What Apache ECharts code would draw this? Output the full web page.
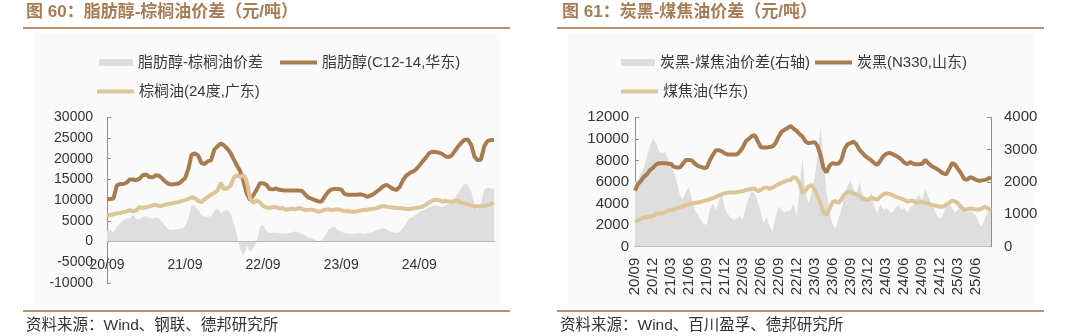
<!DOCTYPE html>
<html><head><meta charset="utf-8">
<script src="https://cdn.jsdelivr.net/npm/echarts@6/dist/echarts.min.js"></script>
<style>html,body{margin:0;padding:0;background:#fff}#c{width:1080px;height:336px}</style>
</head><body><div id="c"></div>
<script>
// ---------- semi-monthly category dates 2020-09 .. 2025-08 ----------
const dates = [];
for (let y = 2020; y <= 2025; y++) {
  for (let m = 1; m <= 12; m++) {
    if (y === 2020 && m < 9) continue;
    if (y === 2025 && m > 8) continue;
    const mm = (m < 10 ? '0' : '') + m;
    dates.push(y + '-' + mm + '-01', y + '-' + mm + '-16');
  }
}
// ---------- Chart 60 ----------
const leftNames = ['脂肪醇-棕榈油价差', '脂肪醇(C12-14,华东)', '棕榈油(24度,广东)'];
const fattyAlcohol = [10300,10300,10400,13500,13900,13900,14200,15000,15000,14800,15200,16000,16200,15600,15500,16000,15900,15200,14400,13900,
  13800,13900,14000,14600,15300,17500,21000,21300,20800,19000,18700,19400,19600,22200,23000,23700,23200,22400,21400,19800,
  18300,16900,14500,11500,10000,11200,12500,14100,14100,13700,12700,12600,12800,12500,12400,12300,12300,12300,12300,12300,
  12200,11300,10600,10300,10000,9700,9700,10900,12000,12600,12700,12700,12600,11500,11300,11300,11300,11300,11400,11200,
  10800,11100,11500,12100,12700,13400,13700,13200,12700,12400,13200,14800,15900,16500,16900,17400,18300,19300,20200,21300,
  21700,21600,21500,21200,20600,20400,20800,21900,23000,23900,24600,24600,23300,20500,19600,19800,23000,24300,24500,24500];
const palmOil = [6200,6400,6600,6800,6900,7100,7300,7600,7300,7500,8300,8100,8300,8500,8700,8900,8500,8700,8900,9100,
  9200,9400,9500,9800,10000,10300,10700,10500,9800,9500,10200,10800,11300,11800,12300,14200,12700,12800,13500,15500,
  16000,15600,16100,14500,10500,9300,10000,9400,8600,8200,8100,8400,8300,8000,8100,7700,7800,7900,7800,8100,
  7900,7600,7700,7700,7500,7200,7400,7700,7800,7600,7700,7800,7600,7300,7400,7250,7200,7300,7500,7600,
  7700,7800,7900,8100,8400,8600,8400,8300,8200,8100,8100,8000,7900,7800,8000,8100,8200,8400,8900,9400,
  9800,10100,10000,9700,9800,9700,9500,9900,9800,9400,9200,8900,8700,8500,8500,8500,8600,8800,9000,9400];
const spreadLeft = [2600,2800,2200,3500,4400,5200,5600,5600,6400,5500,5300,6000,6100,5700,5600,5800,5600,4800,3600,3000,
  2800,2900,3000,3200,3600,5600,8800,8600,7600,6500,6000,6000,6100,7400,8100,6800,7400,7600,6800,4400,
  1500,-2000,-3500,-1000,-2500,-1500,0,3500,4000,2600,2000,2200,2000,2100,1900,2000,2100,2200,2500,2200,
  1800,1600,1000,800,500,0,300,1300,2800,3400,3600,2800,2400,2100,2000,1900,1900,2000,2000,1800,
  2100,2200,2400,2800,3000,3200,3000,2400,2200,2100,2400,3200,4400,5600,6000,6500,7000,7500,7800,8200,
  8500,8800,8600,8300,8700,9000,9500,10500,11800,13000,14000,13800,12000,9000,7600,9500,12500,13000,12800,12800];
// ---------- Chart 61 ----------
const rightNames = ['炭黑-煤焦油价差(右轴)', '炭黑(N330,山东)', '煤焦油(华东)'];
const carbonBlack = [5200,5800,6100,6500,6700,7100,7300,7600,7750,7750,7750,7700,7700,7400,7350,7350,7700,8050,8050,8000,
  7700,7500,7400,7300,7350,8000,8500,8950,8950,8850,8650,8550,8550,8550,8550,8800,9200,9750,10000,10250,
  10350,9800,9250,9200,9200,9250,9300,9600,10200,10650,10850,11000,11200,10950,10750,10450,10200,9750,9600,9650,
  9700,9350,8500,7300,6900,7500,7750,7700,7700,8050,9000,9500,9600,9750,9500,9000,8700,8400,8200,8000,
  7750,7600,7950,8400,8600,8700,8600,8450,8300,8100,7800,7650,7850,7700,7650,7650,7700,8050,7750,7500,
  7350,7200,7000,6800,6700,7200,7750,7600,7200,6800,6300,6200,6450,6350,6200,6100,6150,6200,6300,6450];
const coalTar = [2300,2450,2600,2700,2750,2800,2800,3050,3100,3050,3200,3350,3400,3450,3550,3650,3750,3850,3950,4000,
  4050,4100,4150,4250,4300,4400,4500,4600,4750,4850,4950,5000,5030,5030,5050,5100,5150,5250,5300,5350,
  5400,5150,5250,5450,5500,5350,5500,5650,5800,5900,6050,6150,6180,6450,6350,5900,5000,5200,5600,5700,
  5300,4700,4000,3200,2950,3500,4150,4250,4050,4400,4850,5100,5050,4950,4850,4700,4450,4400,4330,4550,
  4450,4330,4650,4850,4950,4900,4800,4650,4550,4450,4350,4200,4250,4250,4100,4100,4150,4050,4000,3900,
  3850,3750,3700,3700,3900,4050,4300,4200,4000,3700,3400,3450,3550,3500,3450,3450,3550,3700,3550,3350];
const spreadRight = [2000,2050,2270,2450,2800,3100,3350,3200,2950,2880,2940,2730,2530,2300,2000,1600,1450,1700,1850,1500,
  1130,1030,820,700,680,1130,1340,1130,1400,1650,1200,1000,900,820,870,950,850,1240,1500,1700,
  1650,1400,1100,720,930,620,460,930,1240,1150,1050,1100,1130,1340,930,1750,2780,1650,1340,1650,
  2100,2800,3710,2800,1700,1100,700,550,850,1150,1550,1850,2060,1800,1600,2000,1650,1500,1400,1700,
  1240,1030,1340,1150,1200,1100,1050,1200,1300,1150,1200,1050,1200,1300,1500,1600,1450,1800,1550,1350,
  1150,950,850,1000,1250,1300,1200,1050,1150,1250,1150,1050,1100,1050,950,720,620,900,1100,1050];

const BROWN = '#A97C50', TAN = '#DCC699', GRAY = '#DEDEDE', RULE = '#B8916B', TITLE = '#A67D57';
const FONT = '"Liberation Sans", "Noto Sans CJK SC", sans-serif';
const fmt = v => v.slice(2, 4) + '/' + v.slice(5, 7);
const plain = v => '' + v;
const isSep = (i, v) => v.slice(5) === '09-01';
const isQtr = (i, v) => /-(03|06|09|12)-01$/.test(v);
const axisCol = '#8f8f8f', txt = '#333';

function leg(name, left, top, w, h) {
  return { data: [name], left: left, top: top, icon: 'rect', itemWidth: w, itemHeight: h,
    textStyle: { fontFamily: FONT, fontSize: 15, color: '#3a3a3a' }, selectedMode: false, padding: 0 };
}
function tx(x, y, text, size, color, weight) {
  return { type: 'text', x: x, y: y, style: { text: text, fill: color, font: (weight || 'normal') + ' ' + size + 'px ' + FONT, textVerticalAlign: 'middle', textAlign: 'left' } };
}
function ln(x1, x2, y) {
  return { type: 'line', shape: { x1: x1, y1: y, x2: x2, y2: y }, style: { stroke: RULE, lineWidth: 2 } };
}

const chart = echarts.init(document.getElementById('c'), null, { renderer: 'canvas' });
chart.setOption({
  animation: false,
  backgroundColor: '#fff',
  graphic: [
    { type: 'rect', z: -10, shape: { x: 35, y: 33, width: 465, height: 272 }, style: { fill: '#fafafa' } },
    { type: 'rect', z: -10, shape: { x: 568, y: 33, width: 465, height: 272 }, style: { fill: '#fafafa' } },
    tx(26, 12, '图 60：脂肪醇-棕榈油价差（元/吨）', 17, TITLE, 'bold'),
    tx(562, 12, '图 61：炭黑-煤焦油价差（元/吨）', 17, TITLE, 'bold'),
    ln(23, 510, 28), ln(557, 1044, 28),
    ln(23, 510, 311), ln(557, 1044, 311),
    tx(26, 326, '资料来源：Wind、钢联、德邦研究所', 15.5, '#333'),
    tx(560, 326, '资料来源：Wind、百川盈孚、德邦研究所', 15.5, '#333')
  ],
  legend: [
    leg(leftNames[0], 99, 55, 34, 7),
    leg(leftNames[1], 280, 55, 37, 4),
    leg(leftNames[2], 97, 84, 37, 4),
    leg(rightNames[0], 621, 55, 34, 7),
    leg(rightNames[1], 815, 55, 37, 4),
    leg(rightNames[2], 621, 84, 37, 4)
  ],
  grid: [
    { left: 107, width: 387, top: 117.3, height: 165.7 },
    { left: 635, width: 356, top: 117.3, height: 129.4 }
  ],
  xAxis: [
    { type: 'category', gridIndex: 0, data: dates, boundaryGap: false, position: 'bottom', offset: -41.4,
      axisLine: { onZero: false, lineStyle: { color: axisCol } },
      axisTick: { inside: true, length: 4, interval: isSep, lineStyle: { color: axisCol } },
      axisLabel: { interval: isSep, formatter: fmt, margin: 17, fontFamily: FONT, fontSize: 14, color: txt } },
    { type: 'category', gridIndex: 1, data: dates, boundaryGap: false,
      axisLine: { lineStyle: { color: axisCol } },
      axisTick: { inside: true, length: 4, interval: isQtr, lineStyle: { color: axisCol } },
      axisLabel: { interval: isQtr, formatter: fmt, rotate: 90, margin: 11, fontFamily: FONT, fontSize: 15, color: txt } }
  ],
  yAxis: [
    { type: 'value', gridIndex: 0, min: -10000, max: 30000, interval: 5000, splitLine: { show: false },
      axisLine: { show: true, lineStyle: { color: axisCol } },
      axisTick: { show: true, inside: true, length: 4, lineStyle: { color: axisCol } },
      axisLabel: { margin: 14, formatter: plain, fontFamily: FONT, fontSize: 14, color: txt } },
    { type: 'value', gridIndex: 1, min: 0, max: 12000, interval: 2000, splitLine: { show: false },
      axisLine: { show: true, lineStyle: { color: axisCol } },
      axisTick: { show: true, inside: true, length: 4, lineStyle: { color: axisCol } },
      axisLabel: { margin: 6, formatter: plain, fontFamily: FONT, fontSize: 15, color: txt } },
    { type: 'value', gridIndex: 1, position: 'right', min: 0, max: 4000, interval: 1000, splitLine: { show: false },
      axisLine: { show: true, lineStyle: { color: axisCol } },
      axisTick: { show: true, inside: true, length: 4, lineStyle: { color: axisCol } },
      axisLabel: { margin: 13, formatter: plain, fontFamily: FONT, fontSize: 15, color: txt } }
  ],
  series: [
    { name: leftNames[0], type: 'line', xAxisIndex: 0, yAxisIndex: 0, data: spreadLeft, symbol: 'none',
      lineStyle: { width: 0 }, itemStyle: { color: GRAY }, areaStyle: { color: GRAY, opacity: 1, origin: 0 } },
    { name: leftNames[1], type: 'line', xAxisIndex: 0, yAxisIndex: 0, data: fattyAlcohol, symbol: 'none',
      lineStyle: { width: 4, color: BROWN }, itemStyle: { color: BROWN } },
    { name: leftNames[2], type: 'line', xAxisIndex: 0, yAxisIndex: 0, data: palmOil, symbol: 'none',
      lineStyle: { width: 4, color: TAN }, itemStyle: { color: TAN } },
    { name: rightNames[0], type: 'line', xAxisIndex: 1, yAxisIndex: 2, data: spreadRight, symbol: 'none',
      lineStyle: { width: 0 }, itemStyle: { color: GRAY }, areaStyle: { color: GRAY, opacity: 1 } },
    { name: rightNames[1], type: 'line', xAxisIndex: 1, yAxisIndex: 1, data: carbonBlack, symbol: 'none',
      lineStyle: { width: 4, color: BROWN }, itemStyle: { color: BROWN } },
    { name: rightNames[2], type: 'line', xAxisIndex: 1, yAxisIndex: 1, data: coalTar, symbol: 'none',
      lineStyle: { width: 4, color: TAN }, itemStyle: { color: TAN } }
  ]
});
</script></body></html>
